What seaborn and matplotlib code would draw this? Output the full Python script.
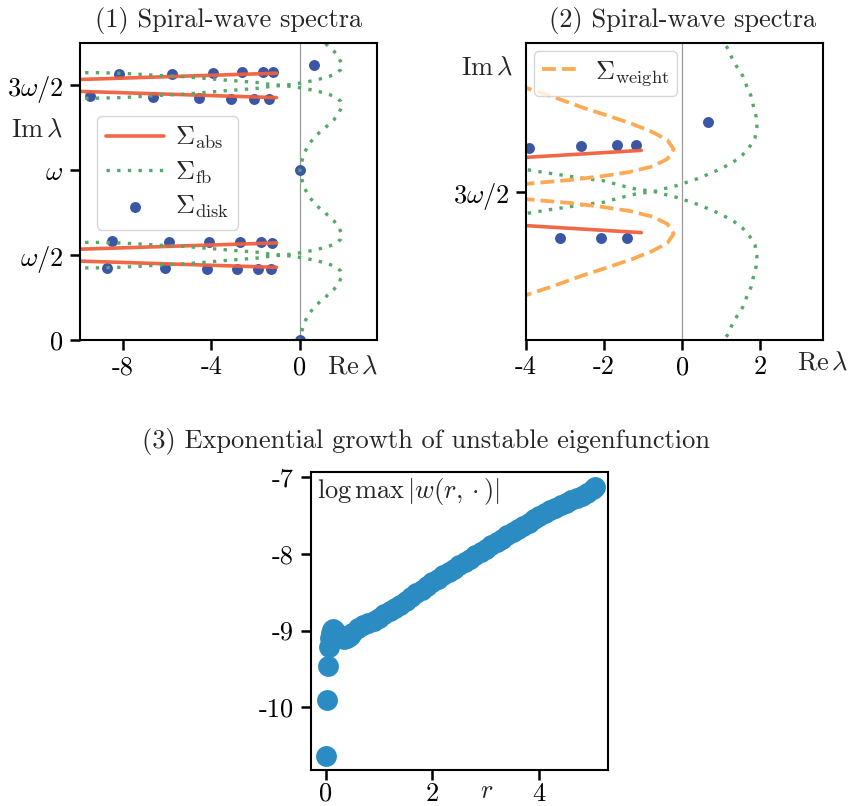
import numpy as np
import matplotlib
matplotlib.use("Agg")
import matplotlib.pyplot as plt
import seaborn as sns

# ---------------------------------------------------------------------------
# Spectral data (imaginary parts in units of the rotation frequency omega)
# ---------------------------------------------------------------------------
# Absolute spectrum: one straight branch above each band centre (mirrored below)
abs_re = [-10.2, -1.05]
abs_dy = [0.034, 0.072]

# Far-field (Floquet-Bloch) spectrum: one branch per band centre, mirrored below
fb_re = [-10.2, -9.09, -8.18, -7.27, -6.29, -5.30, -4.32, -3.41, -2.42, -2.03,
         -1.48, -1.18, -0.72, -0.46, -0.16, 0.11, 0.37, 0.62, 0.86, 1.10,
         1.33, 1.54, 1.73, 1.86, 1.91, 1.89, 1.82, 1.76, 1.65, 1.55,
         1.39, 1.27, 1.15, 1.06, 0.76, 0.45, 0.23, 0.09, 0.0]
fb_dy = [-0.075, -0.075, -0.072, -0.066, -0.058, -0.052, -0.042, -0.032, -0.022, -0.019,
         -0.009, -0.004, 0.0, 0.005, 0.010, 0.016, 0.022, 0.029, 0.036, 0.044,
         0.053, 0.064, 0.079, 0.094, 0.113, 0.131, 0.149, 0.167, 0.184, 0.202,
         0.219, 0.234, 0.252, 0.258, 0.293, 0.340, 0.391, 0.450, 0.500]

# Weighted essential spectrum: one loop above the band centre (mirrored below)
wt_re = [-4.2, -3.32, -2.55, -1.87, -1.27, -0.76, -0.38, -0.22,
         -0.38, -0.76, -1.36, -2.04, -2.89, -3.66, -4.2]
wt_dy = [0.186, 0.166, 0.147, 0.132, 0.118, 0.104, 0.090, 0.074,
         0.057, 0.044, 0.034, 0.027, 0.020, 0.0155, 0.012]

band_centres = [0.5, 1.5]

# Eigenvalues computed on the disk
disk_re = [-8.51, -5.94, -4.09, -2.70, -1.74, -1.24,
           -8.71, -6.10, -4.20, -2.83, -1.88, -1.29,
           -8.20, -5.80, -3.93, -2.60, -1.66, -1.19,
           -9.50, -6.65, -4.58, -3.12, -2.08, -1.41,
           0.0, 0.03, 0.65]
disk_im = [0.582, 0.578, 0.578, 0.578, 0.576, 0.572,
           0.425, 0.422, 0.416, 0.416, 0.416, 0.416,
           1.565, 1.569, 1.576, 1.580, 1.582, 1.582,
           1.437, 1.433, 1.428, 1.419, 1.418, 1.419,
           0.0, 1.0, 1.622]

# Growth of the unstable eigenfunction along the radius
r_vals = [0.00, 0.02, 0.04, 0.06, 0.08, 0.10, 0.12, 0.14, 0.16, 0.18,
          0.20, 0.25, 0.30, 0.35, 0.40, 0.45, 0.50, 0.60, 0.70, 0.80,
          0.90, 1.00, 1.10, 1.20, 1.30, 1.40, 1.50, 1.60, 1.70, 1.80,
          1.90, 2.00, 2.10, 2.20, 2.30, 2.40, 2.50, 2.60, 2.70, 2.80,
          2.90, 3.00, 3.10, 3.20, 3.30, 3.40, 3.50, 3.60, 3.70, 3.80,
          3.90, 4.00, 4.10, 4.20, 4.30, 4.40, 4.50, 4.60, 4.70, 4.80,
          4.90, 5.00, 5.05]
logmax_w = [-10.64, -9.91, -9.46, -9.22, -9.10, -9.03, -8.99, -8.98, -8.99, -9.01,
            -9.03, -9.06, -9.09, -9.11, -9.10, -9.07, -9.03, -8.97, -8.93, -8.90,
            -8.87, -8.83, -8.79, -8.75, -8.70, -8.66, -8.61, -8.56, -8.51, -8.47,
            -8.42, -8.37, -8.33, -8.28, -8.24, -8.19, -8.15, -8.10, -8.06, -8.01,
            -7.97, -7.93, -7.88, -7.84, -7.80, -7.75, -7.71, -7.67, -7.63, -7.59,
            -7.55, -7.51, -7.47, -7.43, -7.40, -7.36, -7.33, -7.30, -7.27, -7.24,
            -7.20, -7.15, -7.12]

im_ticks = [0.0, 0.5, 1.0, 1.5]
im_ticklabels = ["0", r"$\omega/2$", r"$\omega$", r"$3\omega/2$"]

# ---------------------------------------------------------------------------
# Style
# ---------------------------------------------------------------------------
sns.set_style("ticks")
plt.rcParams.update({
    "font.family": ["cmr10"],
    "mathtext.fontset": "cm",
    "axes.unicode_minus": False,
    "axes.formatter.use_mathtext": False,
    "font.size": 19,
    "axes.edgecolor": "black",
    "axes.linewidth": 1.5,
    "xtick.color": "black",
    "ytick.color": "black",
    "xtick.major.size": 7,
    "ytick.major.size": 7,
    "xtick.major.width": 1.8,
    "ytick.major.width": 1.8,
    "xtick.major.pad": 4,
    "ytick.major.pad": 5,
    "xtick.labelsize": 19,
    "ytick.labelsize": 19,
    "legend.fontsize": 19,
})

c_abs = "#f0603e"
c_fb = "#55a868"
c_disk = "#3a56a5"
c_wt = "#fdaa52"
c_grow = "#2b8cc4"
fb_style = (0, (1, 2.2))

fig = plt.figure(figsize=(8.49, 8.06), dpi=100)
W, H = 849, 806
ax1 = fig.add_axes([80 / W, 1 - 340 / H, 297 / W, 297 / H])
ax2 = fig.add_axes([526 / W, 1 - 340 / H, 297 / W, 297 / H])
ax3 = fig.add_axes([310.7 / W, 1 - 770 / H, 297 / W, 298 / H])


def spectra(ax, show_weight):
    ax.axvline(0, color="#999999", lw=0.9, zorder=0.5)
    first = True
    for c in band_centres:
        for sgn in (1, -1):
            sns.lineplot(x=abs_re, y=[c + sgn * d for d in abs_dy], sort=False,
                         estimator=None, color=c_abs, linewidth=2.6, alpha=0.95,
                         ax=ax, label=r"$\Sigma_{\rm abs}$" if first else None)
            first = False
    first = True
    for c in band_centres:
        for sgn in (1, -1):
            sns.lineplot(x=fb_re, y=[c + sgn * d for d in fb_dy], sort=False,
                         estimator=None, color=c_fb, linewidth=2.4,
                         linestyle=fb_style, ax=ax,
                         label=r"$\Sigma_{\rm fb}$" if first else None)
            first = False
    if show_weight:
        first = True
        for sgn in (1, -1):
            sns.lineplot(x=wt_re, y=[1.5 + sgn * d for d in wt_dy], sort=False,
                         estimator=None, color=c_wt, linewidth=2.7,
                         linestyle="--", ax=ax,
                         label=r"$\Sigma_{\rm weight}$" if first else None)
            first = False
    sns.scatterplot(x=disk_re, y=disk_im, s=62, color=c_disk, linewidth=0,
                    ax=ax, label=r"$\Sigma_{\rm disk}$", zorder=1)


# (1) full view of the spectra
spectra(ax1, False)
ax1.set_xlim(-9.95, 3.5)
ax1.set_ylim(0, 1.75)
ax1.set_xticks([-8, -4, 0])
ax1.set_yticks(im_ticks, im_ticklabels)
h, l = ax1.get_legend_handles_labels()
ax1.legend(h, l, loc="upper left", bbox_to_anchor=(0.057, 0.755),
           borderaxespad=0, handlelength=2.2, handletextpad=0.4,
           labelspacing=0.3, borderpad=0.35, framealpha=0.8)

# (2) close-up of the upper band with the weighted spectrum
spectra(ax2, True)
ax2.set_xlim(-4, 3.6)
ax2.set_ylim(1.24, 1.76)
ax2.set_xticks([-4, -2, 0, 2])
ax2.set_yticks([1.5], [r"$3\omega/2$"])
h, l = ax2.get_legend_handles_labels()
keep = [i for i, t in enumerate(l) if "weight" in t]
ax2.legend([h[i] for i in keep], [l[i] for i in keep], loc="upper left",
           handlelength=1.5, handletextpad=0.5, borderpad=0.3,
           borderaxespad=0.3, framealpha=0.8)

for ax, (rx, ry), (ix, iy) in [(ax1, (0.918, -0.088), (-0.145, 0.707)),
                               (ax2, (1.0, -0.077), (-0.13, 0.916))]:
    ax.text(rx, ry, r"$\mathrm{Re}\,\lambda$", transform=ax.transAxes,
            ha="center", va="center", fontsize=19)
    ax.text(ix, iy, r"$\mathrm{Im}\,\lambda$", transform=ax.transAxes,
            ha="center", va="center", fontsize=19)

# (3) growth of the unstable eigenfunction
sns.scatterplot(x=r_vals, y=logmax_w, s=225, color=c_grow, linewidth=0, ax=ax3)
ax3.set_xlim(-0.28, 5.28)
ax3.set_ylim(-10.82, -6.93)
ax3.set_xticks([0, 2, 4])
ax3.set_yticks([-10, -9, -8, -7])
ax3.tick_params(axis="x", pad=1.5)
ax3.text(0.02, 0.934, r"$\log\max\,|w(r{,}\,\cdot)|$", transform=ax3.transAxes,
         ha="left", va="center", fontsize=19)
ax3.text(0.593, -0.072, r"$r$", transform=ax3.transAxes,
         ha="center", va="center", fontsize=19)

for ax in (ax1, ax2, ax3):
    ax.set_xlabel("")
    ax.set_ylabel("")

fig.text(228.5 / W, 1 - 20 / H, "(1) Spiral-wave spectra",
         ha="center", va="center", fontsize=19)
fig.text(683 / W, 1 - 20 / H, "(2) Spiral-wave spectra",
         ha="center", va="center", fontsize=19)
fig.text(425.5 / W, 1 - 441.7 / H, "(3) Exponential growth of unstable eigenfunction",
         ha="center", va="center", fontsize=19)

fig.savefig("out.png", dpi=100)
